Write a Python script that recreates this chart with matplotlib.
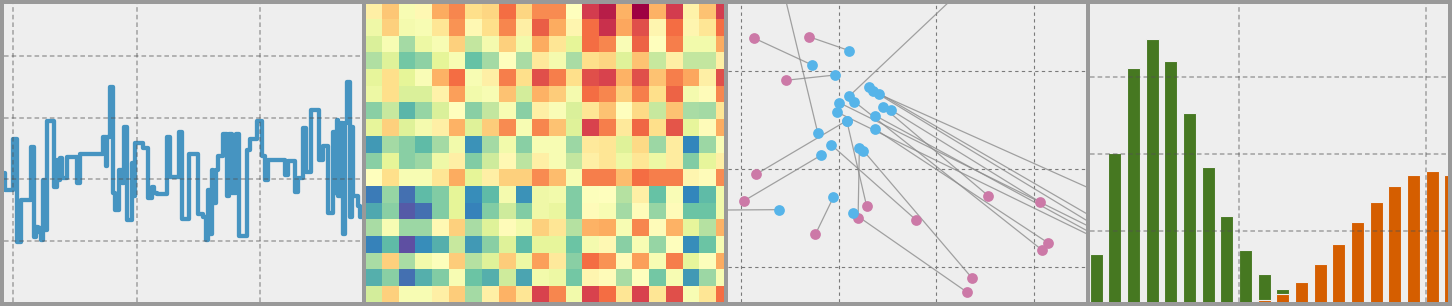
import matplotlib
matplotlib.use("Agg")
import matplotlib.pyplot as plt
import numpy as np

# panel 1: step line (breakpoints and levels)
walk_x = [-3.8, -3.4, 0.0, 1.4, 3.0, 7.0, 8.4, 9.2, 9.9, 10.5, 11.1, 12.2, 12.8, 13.5,
          16.6, 17.6, 18.2, 18.9, 19.6, 21.6, 25.7, 27.0, 36.5, 37.6, 38.1, 39.2, 40.3,
          41.2, 43.0, 43.9, 44.9, 46.0, 48.0, 48.6, 49.3, 52.7, 54.7, 56.1, 57.2, 58.1,
          62.2, 63.5, 67.3, 68.2, 71.4, 75.0, 77.0, 78.1, 79.1, 79.7, 80.4, 81.1, 82.2,
          83.1, 84.9, 86.5, 87.6, 88.8, 90.3, 91.6, 94.6, 95.9, 98.6, 100.7, 102.0, 103.4,
          110.1, 111.5, 114.2, 115.5, 117.6, 118.6, 120.5, 123.9, 125.7, 127.7, 129.7,
          130.4, 131.1, 131.8, 132.7, 133.8, 134.6, 135.4, 136.5, 137.2, 137.8, 139.9,
          140.5, 142.0]
walk_y = [0.10, -0.18, 0.66, -1.01, -0.34, 0.52, -0.93, -0.77, -0.85, -0.79, -0.98, -0.01,
          -0.82, 0.94, -0.12, 0.31, -0.01, 0.34, 0.02, 0.36, -0.06, 0.41, 0.69, 0.21, 0.69,
          1.50, -0.23, -0.50, 0.15, -0.06, 0.85, -0.66, 0.26, -0.28, 0.58, 0.50, -0.31,
          -0.12, -0.23, -0.24, 0.69, 0.04, 0.77, -0.65, 0.41, -0.56, -0.61, -0.98, -0.17,
          -0.88, 0.15, -0.39, 0.15, 0.38, 0.74, -0.28, 0.74, -0.23, 0.74, -0.92, 0.48,
          0.65, 0.95, 0.37, -0.01, 0.31, 0.07, 0.29, -0.20, 0.02, 0.83, 0.12, 1.12, 0.31,
          0.54, -0.54, 0.77, -0.23, 0.96, -0.28, 0.91, -0.88, 0.91, 1.58, -0.61, 0.85,
          -0.28, -0.44, -0.61, -0.61]

# panel 2: heatmap values (0 = blue/purple, 1 = dark red)
heat = [
    [0.55, 0.65, 0.47, 0.52, 0.70, 0.76, 0.60, 0.62, 0.80, 0.62, 0.75, 0.75, 0.50, 0.90, 0.95, 0.69, 1.00, 0.69, 0.90, 0.54, 0.66, 0.90],
    [0.44, 0.63, 0.46, 0.47, 0.58, 0.74, 0.52, 0.60, 0.76, 0.55, 0.83, 0.70, 0.53, 0.80, 0.92, 0.71, 0.86, 0.53, 0.80, 0.53, 0.58, 0.80],
    [0.38, 0.47, 0.29, 0.43, 0.47, 0.63, 0.34, 0.46, 0.63, 0.45, 0.70, 0.58, 0.40, 0.80, 0.76, 0.48, 0.82, 0.50, 0.77, 0.45, 0.45, 0.70],
    [0.31, 0.39, 0.22, 0.26, 0.40, 0.47, 0.20, 0.29, 0.50, 0.30, 0.57, 0.46, 0.30, 0.60, 0.62, 0.39, 0.66, 0.35, 0.55, 0.34, 0.34, 0.55],
    [0.41, 0.60, 0.40, 0.48, 0.69, 0.80, 0.47, 0.55, 0.77, 0.60, 0.86, 0.77, 0.60, 0.86, 0.89, 0.69, 0.86, 0.66, 0.77, 0.71, 0.55, 0.86],
    [0.43, 0.60, 0.38, 0.38, 0.54, 0.72, 0.45, 0.47, 0.66, 0.37, 0.69, 0.64, 0.46, 0.80, 0.76, 0.63, 0.77, 0.60, 0.82, 0.46, 0.51, 0.76],
    [0.25, 0.35, 0.18, 0.27, 0.38, 0.50, 0.25, 0.34, 0.47, 0.25, 0.55, 0.48, 0.38, 0.58, 0.66, 0.50, 0.61, 0.35, 0.66, 0.30, 0.29, 0.58],
    [0.41, 0.63, 0.39, 0.46, 0.55, 0.69, 0.39, 0.64, 0.75, 0.47, 0.76, 0.66, 0.39, 0.89, 0.77, 0.57, 0.81, 0.60, 0.85, 0.41, 0.51, 0.70],
    [0.13, 0.29, 0.25, 0.19, 0.29, 0.45, 0.12, 0.29, 0.45, 0.25, 0.47, 0.47, 0.28, 0.57, 0.58, 0.39, 0.61, 0.28, 0.56, 0.10, 0.28, 0.48],
    [0.25, 0.40, 0.25, 0.28, 0.44, 0.55, 0.24, 0.36, 0.52, 0.33, 0.55, 0.47, 0.34, 0.55, 0.58, 0.43, 0.58, 0.43, 0.56, 0.24, 0.41, 0.55],
    [0.50, 0.60, 0.47, 0.47, 0.58, 0.70, 0.40, 0.55, 0.63, 0.63, 0.75, 0.67, 0.47, 0.77, 0.77, 0.67, 0.80, 0.77, 0.77, 0.53, 0.51, 0.75],
    [0.08, 0.27, 0.06, 0.19, 0.24, 0.40, 0.11, 0.19, 0.46, 0.12, 0.44, 0.45, 0.24, 0.49, 0.50, 0.32, 0.55, 0.20, 0.48, 0.10, 0.19, 0.45],
    [0.16, 0.25, 0.02, 0.06, 0.24, 0.40, 0.09, 0.24, 0.36, 0.24, 0.44, 0.42, 0.24, 0.51, 0.47, 0.29, 0.51, 0.27, 0.51, 0.21, 0.21, 0.45],
    [0.30, 0.47, 0.28, 0.28, 0.52, 0.63, 0.30, 0.39, 0.51, 0.45, 0.63, 0.58, 0.32, 0.69, 0.70, 0.47, 0.76, 0.51, 0.69, 0.41, 0.32, 0.69],
    [0.09, 0.19, 0.00, 0.11, 0.17, 0.35, 0.13, 0.25, 0.39, 0.19, 0.41, 0.41, 0.21, 0.46, 0.52, 0.25, 0.47, 0.27, 0.50, 0.11, 0.21, 0.47],
    [0.30, 0.63, 0.30, 0.45, 0.49, 0.64, 0.32, 0.39, 0.64, 0.43, 0.72, 0.57, 0.25, 0.80, 0.74, 0.51, 0.72, 0.47, 0.77, 0.41, 0.49, 0.70],
    [0.17, 0.25, 0.06, 0.17, 0.24, 0.47, 0.21, 0.17, 0.36, 0.15, 0.45, 0.43, 0.22, 0.53, 0.51, 0.30, 0.50, 0.22, 0.47, 0.13, 0.28, 0.47],
    [0.37, 0.63, 0.47, 0.47, 0.55, 0.64, 0.29, 0.55, 0.69, 0.58, 0.89, 0.76, 0.45, 0.89, 0.80, 0.58, 0.89, 0.58, 0.86, 0.47, 0.58, 0.80],
]

# panel 3: pairs of points joined by lines
blue_x = [1.109, 0.727, 0.966, 1.307, 1.348, 1.416, 1.109, 1.160, 1.006, 1.450, 1.535, 0.979,
          1.375, 1.082, 1.375, 0.785, 0.925, 1.211, 1.252, 0.819, 0.945, 0.386, 1.143, 1.082]
blue_y = [2.204, 2.058, 1.956, 1.830, 1.796, 1.759, 1.742, 1.684, 1.673, 1.633, 1.599, 1.579,
          1.541, 1.490, 1.402, 1.367, 1.242, 1.208, 1.184, 1.137, 0.708, 0.582, 0.551, 1.490]
pink_x = [0.693, 0.136, 0.461, 4.5, 4.5, 4.5, 2.371, 3.081, 4.5, 2.528, 3.064, 4.5,
          4.5, 0.154, 3.139, 0.392, 1.791, 1.198, 2.361, 0.027, 0.761, -0.358, 2.310, 1.286]
pink_y = [2.347, 2.331, 1.902, -0.016, -0.111, 0.383, 2.93, 0.170, -0.053, 0.725, 0.657, -0.132,
          -0.153, 0.943, 0.245, 2.99, 0.477, 0.494, -0.112, 0.670, 0.330, 0.577, -0.258, 0.616]

# panel 4: bars
green_h = [13.9, 40.3, 62.2, 69.8, 64.2, 50.7, 36.5, 23.9, 15.0, 8.8, 4.9]
orange_h = [2.0, 3.6, 6.8, 11.3, 16.5, 22.3, 27.5, 31.7, 34.6, 35.5, 34.6]
green_pos = [2.35, 3.35, 4.35, 5.35, 6.35, 7.35, 8.35, 9.35, 10.35, 11.35, 12.35]
orange_pos = [11.35, 12.35, 13.35, 14.35, 15.35, 16.35, 17.35, 18.35, 19.35, 20.35, 21.35]

W, H = 1452, 306
fig = plt.figure(figsize=(W / 100, H / 100), dpi=100, facecolor="#999999")

def make_ax(i):
    ax = fig.add_axes([(4 + i * 362) / W, 4 / H, 358 / W, 298 / H])
    ax.set_facecolor("#eeeeee")
    for s in ax.spines.values():
        s.set_visible(False)
    ax.tick_params(length=0, labelbottom=False, labelleft=False)
    return ax

# 1 - line
ax1 = make_ax(0)
ax1.plot(walk_x + [walk_x[-1]], walk_y + [walk_y[-1]], drawstyle="steps-post",
         color="#348ABD", lw=3.1, alpha=0.9)
ax1.set_xlim(-3.78, 141.35)
ax1.set_ylim(-1.99, 2.84)
ax1.set_xticks([0, 50, 100])
ax1.set_yticks([-1, 0, 1, 2])
ax1.set_axisbelow(False)
ax1.grid(True, color="#525252", alpha=0.5, lw=1.1, linestyle=(0, (3, 2)))

# 2 - heatmap
ax2 = make_ax(1)
ax2.imshow(np.array(heat), cmap="Spectral_r", vmin=0, vmax=1, aspect="auto",
           interpolation="nearest", extent=(0, 22, 18, 0))
ax2.set_xlim(0.04, 21.48)
ax2.set_ylim(17.95, 0.1)

# 3 - scatter with links
ax3 = make_ax(2)
for bx, by, px, py in zip(blue_x, blue_y, pink_x, pink_y):
    ax3.plot([bx, px], [by, py], color="#8c8c8c", lw=0.9, alpha=0.8, zorder=1)
ax3.scatter(pink_x, pink_y, s=60, color="#CC79A7", zorder=2, linewidths=0)
ax3.scatter(blue_x, blue_y, s=60, color="#56B4E9", zorder=3, linewidths=0)
ax3.set_xlim(-0.133, 3.53)
ax3.set_ylim(-0.36, 2.68)
ax3.set_xticks([0, 1, 2, 3])
ax3.set_yticks([0, 1, 2])
ax3.set_axisbelow(True)
ax3.grid(True, color="#7a7a7a", lw=0.8, linestyle=(0, (3, 3)))

# 4 - bars
ax4 = make_ax(3)
ax4.bar(green_pos, green_h, width=0.7, color="#467821", edgecolor="#eeeeee", lw=0.8)
ax4.bar(orange_pos, orange_h, width=0.7, color="#D55E00", edgecolor="#eeeeee", lw=0.8)
ax4.set_xlim(2.015, 21.2)
ax4.set_ylim(1.48, 78.9)
ax4.set_xticks([10.0, 20.0])
ax4.set_yticks([20, 40, 60])
ax4.set_axisbelow(False)
ax4.grid(True, color="#525252", alpha=0.5, lw=1.1, linestyle=(0, (3, 2)))

fig.savefig("out.png", dpi=100, facecolor=fig.get_facecolor())
